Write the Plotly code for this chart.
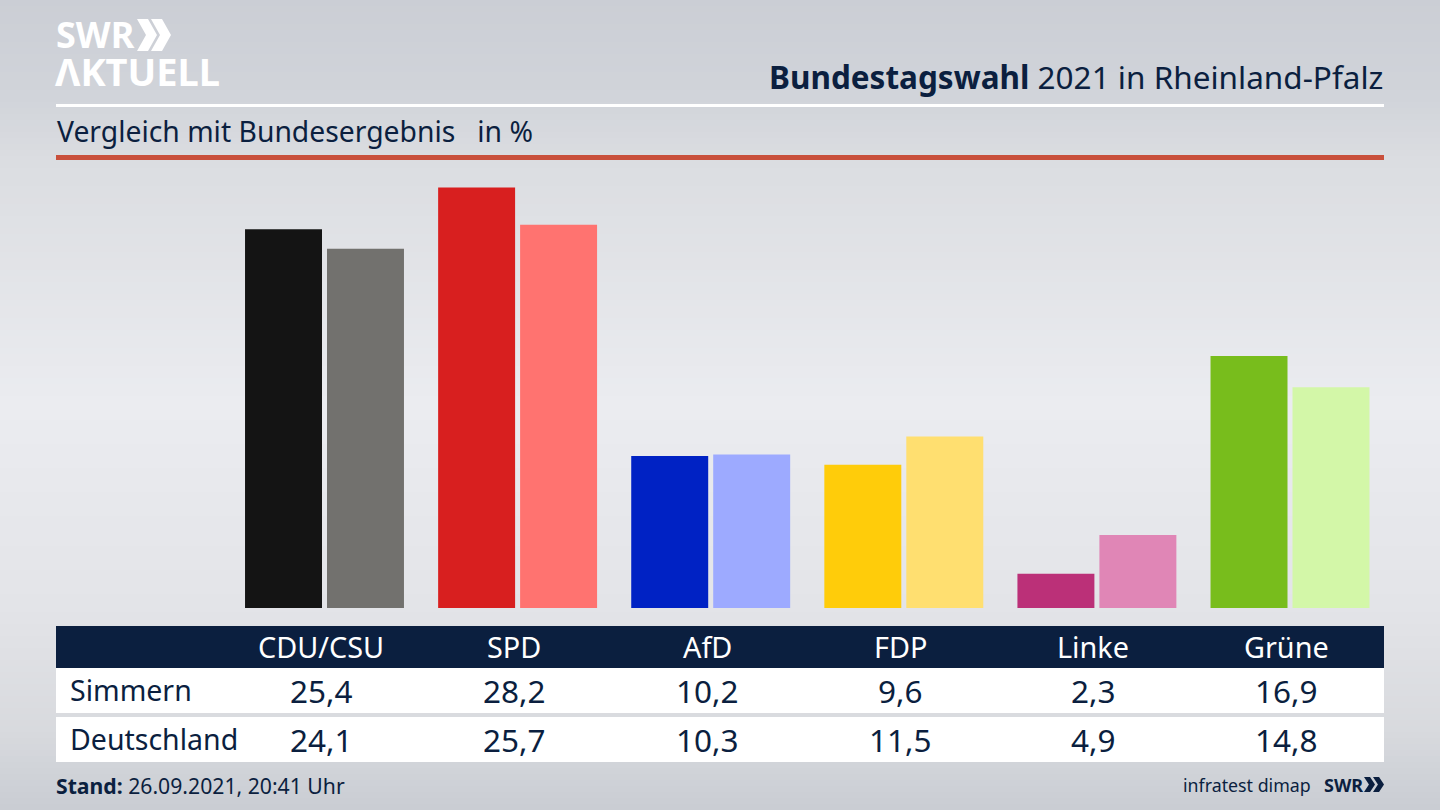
import plotly.graph_objects as go

W, H = 1440, 810
parties = ["CDU/CSU", "SPD", "AfD", "FDP", "Linke", "Grüne"]
simmern = [25.4, 28.2, 10.2, 9.6, 2.3, 16.9]
deutschland = [24.1, 25.7, 10.3, 11.5, 4.9, 14.8]
row_names = ["Simmern", "Deutschland"]
colors_a = ["#141414", "#d81f1f", "#0022c4", "#ffcc0a", "#bb3078", "#78bd1c"]
colors_b = ["#72716e", "#ff7370", "#9daaff", "#ffdf70", "#e086b6", "#d3f7a8"]
title_bold = "Bundestagswahl"
title_rest = " 2021 in Rheinland-Pfalz"
subtitle = "Vergleich mit Bundesergebnis   in %"
stand_label = "Stand:"
stand_text = "26.09.2021, 20:41 Uhr"
source = "infratest dimap"
bg_stops = [(0, "#cbced5"), (0.12, "#d1d4da"), (0.2, "#dbdde1"), (0.5, "#ebecf0"),
            (0.75, "#e3e4e8"), (0.9, "#d8dade"), (1, "#c9ccd3")]

NAVY = "#0b1f3f"
FONT = "Noto Sans"
fx = lambda px: px / W
fy = lambda px: 1 - px / H

def hex2rgb(h):
    return [int(h[i:i + 2], 16) for i in (1, 3, 5)]

def bg_color(t):
    for (t0, c0), (t1, c1) in zip(bg_stops, bg_stops[1:]):
        if t0 <= t <= t1:
            k = (t - t0) / (t1 - t0)
            a, b = hex2rgb(c0), hex2rgb(c1)
            return "rgb(%d,%d,%d)" % tuple(round(p + (q - p) * k) for p, q in zip(a, b))
    return bg_stops[-1][1]

shapes = []
def rect(x0, y0, x1, y1, color, layer="below"):
    shapes.append(dict(type="rect", xref="paper", yref="paper", x0=fx(x0), x1=fx(x1),
                       y0=fy(y1), y1=fy(y0), fillcolor=color, line_width=0, layer=layer))

BAND = 6
for top in range(0, H, BAND):
    rect(0, top, W, min(top + BAND + 1, H), bg_color((top + BAND / 2) / H))

rect(56, 104, 1384, 107, "#ffffff")
rect(56, 155, 1384, 160, "#c9503c")
rect(56, 626, 1384, 668, NAVY)
rect(56, 668, 1384, 713, "#ffffff")
rect(56, 717, 1384, 762, "#ffffff")

def chevrons(x, y, h, w, color, gap):
    for k in range(2):
        x0 = x + k * gap
        t = w * 0.55
        path = (f"M {fx(x0)} {fy(y)} L {fx(x0 + t)} {fy(y)} L {fx(x0 + w)} {fy(y + h / 2)} "
                f"L {fx(x0 + t)} {fy(y + h)} L {fx(x0)} {fy(y + h)} L {fx(x0 + w - t)} {fy(y + h / 2)} Z")
        shapes.append(dict(type="path", xref="paper", yref="paper", path=path,
                           fillcolor=color, line_width=0, layer="above"))

chevrons(137, 19, 32, 20, "#ffffff", 14)
chevrons(1364, 777, 15, 11, NAVY, 9)

ann = []
def text(x, y, s, size, color=NAVY, anchor="center", family=FONT):
    ann.append(dict(x=fx(x), y=fy(y), xref="paper", yref="paper", text=s, showarrow=False,
                    xanchor=anchor, yanchor="middle", align=anchor,
                    font=dict(family=family, size=size, color=color)))

text(54, 35, "<b>SWR</b>", 36, "#ffffff", "left")
text(53, 71, "<b>ΛKTUELL</b>", 38, "#ffffff", "left")
text(1385, 76, f"<b>{title_bold}</b>{title_rest}", 31.5, anchor="right")
text(55, 131, subtitle, 28.3, anchor="left")
for i, p in enumerate(parties):
    cx = 321 + 193.1 * i
    text(cx, 646, p, 28.8, "#ffffff")
    text(cx, 690, f"{simmern[i]:.1f}".replace(".", ","), 31.5)
    text(cx, 739, f"{deutschland[i]:.1f}".replace(".", ","), 31.5)
text(68, 690, row_names[0], 28.5, anchor="left")
text(68, 739, row_names[1], 28.5, anchor="left")
text(54, 785, f"<b>{stand_label}</b> {stand_text}", 21.2, anchor="left")
text(1313, 785, source, 17.8, anchor="right")
text(1322, 785, "<b>SWR</b>", 18, anchor="left")

idx = list(range(len(parties)))
fig = go.Figure()
fig.add_bar(x=idx, y=simmern, marker=dict(color=colors_a, line_width=0), name=row_names[0], hoverinfo="y")
fig.add_bar(x=idx, y=deutschland, marker=dict(color=colors_b, line_width=0), name=row_names[1], hoverinfo="y")

STEP, X0 = 193.1, 324.5
PX_PER_UNIT = 14.91
BASE, TOP = 608, 160
fig.update_layout(
    width=W, height=H, autosize=False, margin=dict(l=0, r=0, t=0, b=0),
    paper_bgcolor="#dfe1e5", plot_bgcolor="rgba(0,0,0,0)", showlegend=False,
    barmode="group", bargap=0.151, bargroupgap=0.061,
    xaxis=dict(range=[-X0 / STEP, (W - X0) / STEP], visible=False, domain=[0, 1]),
    yaxis=dict(range=[0, (BASE - TOP) / PX_PER_UNIT], visible=False, domain=[fy(BASE), fy(TOP)]),
    shapes=shapes, annotations=ann, font=dict(family=FONT),
)
fig.write_html("out.html", config={"displayModeBar": False},
               post_script="document.body.style.margin='0';")
